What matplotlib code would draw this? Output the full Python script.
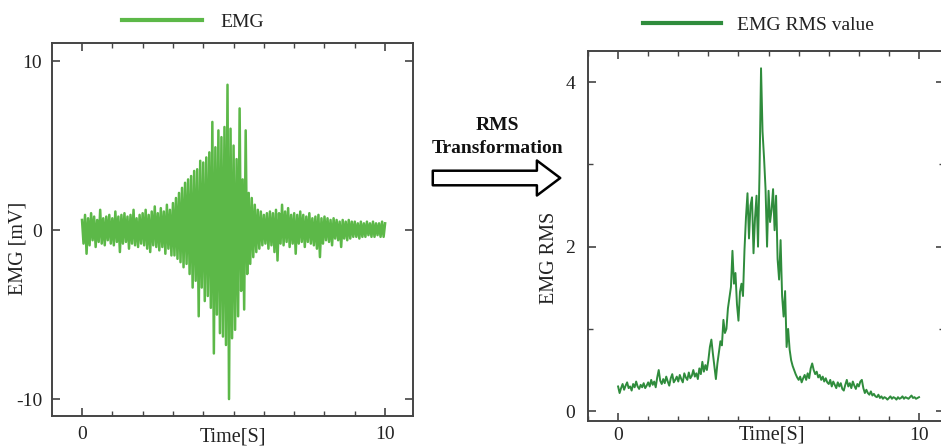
import numpy as np
import matplotlib
matplotlib.use("Agg")
import matplotlib.pyplot as plt
from matplotlib.lines import Line2D
from matplotlib.ticker import MultipleLocator

plt.rcParams['font.family'] = ['Liberation Serif', 'DejaVu Serif']
plt.rcParams['axes.unicode_minus'] = False

# ---------------- data (0.05 s steps) ----------------
emg_step = 0.05
emg_mv = [
    0.6, -0.8, 0.9, -1.4, 0.7, -0.9, 1.0, -0.6, 0.8, -1.0, 0.6, -0.7, 1.2, -0.8, 0.7, -0.9, 0.8, -0.6, 0.9, -0.8,
    0.7, -0.9, 1.1, -0.7, 0.8, -1.3, 0.9, -0.8, 1.0, -0.7, 0.8, -1.1, 0.9, -0.8, 1.2, -0.9, 0.7, -1.0, 0.9, -0.8,
    1.0, -0.9, 1.2, -1.1, 0.9, -1.3, 1.1, -0.9, 1.4, -1.0, 1.0, -1.2, 1.3, -1.0, 1.1, -1.4, 1.5, -1.1, 1.2, -1.5,
    1.6, -1.5, 1.9, -1.7, 2.2, -1.9, 2.5, -2.2, 2.8, -2.0, 3.0, -2.6, 3.2, -3.4, 3.5, -3.0, 3.6, -5.1, 4.1, -3.4,
    4.0, -4.2, 4.3, -3.9, 4.6, -4.6, 6.4, -7.3, 4.9, -5.0, 5.9, -6.1, 5.5, -6.3, 6.1, -6.8, 8.6, -10.0, 6.0, -6.4,
    5.0, -5.9, 4.2, -5.1, 7.2, -3.6, 3.0, -4.7, 5.9, -2.6, 2.2, -2.0, 1.9, -1.6, 1.5, -1.3, 1.2, -1.1, 1.1, -0.9,
    0.9, -0.8, 1.0, -1.1, 1.1, -0.9, 1.0, -1.3, 1.2, -1.8, 1.0, -0.8, 1.5, -0.9, 1.1, -0.7, 1.3, -1.0, 0.9, -0.8,
    1.0, -1.4, 0.9, -0.8, 1.1, -0.7, 0.9, -1.0, 0.8, -0.7, 1.0, -0.8, 0.7, -0.9, 0.8, -1.1, 0.9, -1.6, 0.7, -0.8,
    0.8, -0.6, 0.7, -0.7, 0.6, -0.9, 0.7, -0.5, 0.6, -0.6, 0.5, -1.0, 0.6, -0.5, 0.5, -0.6, 0.6, -0.5, 0.5, -0.4,
    0.5, -0.4, 0.4, -0.5, 0.5, -0.4, 0.4, -0.4, 0.5, -0.3, 0.4, -0.4, 0.5, -0.4, 0.4, -0.3, 0.4, -0.4, 0.5, -0.4,
    0.4,
]

rms_step = 0.05
emg_rms = [
    0.30, 0.22, 0.28, 0.33, 0.26, 0.31, 0.35, 0.28, 0.30, 0.25, 0.33, 0.29, 0.36, 0.30, 0.27, 0.32, 0.29, 0.34, 0.28, 0.31,
    0.35, 0.30, 0.38, 0.32, 0.36, 0.29, 0.41, 0.50, 0.37, 0.33, 0.39, 0.34, 0.42, 0.36, 0.31, 0.40, 0.45, 0.35, 0.38, 0.42,
    0.36, 0.44, 0.39, 0.35, 0.46, 0.41, 0.38, 0.47, 0.40, 0.43, 0.50, 0.42, 0.46, 0.39, 0.52, 0.45, 0.60, 0.48, 0.56, 0.50,
    0.62, 0.78, 0.87, 0.70, 0.55, 0.39, 0.58, 0.72, 0.85, 0.80, 1.11, 0.95, 1.00, 1.25, 1.38, 1.51, 1.95, 1.55, 1.68, 1.30,
    1.10, 1.45, 1.55, 1.40, 1.96, 2.36, 2.65, 2.10, 2.50, 2.60, 1.92, 2.35, 2.62, 2.00, 2.90, 4.17, 3.40, 3.08, 2.70, 2.00,
    2.68, 2.30, 2.45, 2.70, 2.20, 2.62, 1.85, 1.60, 2.08, 1.40, 1.15, 1.46, 0.78, 1.00, 0.75, 0.62, 0.55, 0.50, 0.45, 0.41,
    0.38, 0.42, 0.35, 0.40, 0.44, 0.38, 0.46, 0.40, 0.52, 0.58, 0.50, 0.45, 0.48, 0.41, 0.44, 0.38, 0.42, 0.36, 0.40, 0.35,
    0.33, 0.38, 0.30, 0.36, 0.32, 0.28, 0.35, 0.30, 0.34, 0.27, 0.25, 0.32, 0.38, 0.30, 0.34, 0.28, 0.36, 0.31, 0.27, 0.33,
    0.30, 0.36, 0.38, 0.28, 0.22, 0.26, 0.22, 0.20, 0.24, 0.19, 0.21, 0.18, 0.17, 0.20, 0.16, 0.18, 0.15, 0.17, 0.16, 0.14,
    0.16, 0.18, 0.15, 0.17, 0.16, 0.14, 0.17, 0.15, 0.16, 0.18, 0.15, 0.17, 0.16, 0.15, 0.17, 0.19, 0.16, 0.17, 0.15, 0.16,
    0.17,
]

x_ticks = [0, 10]
emg_yticks = [-10, 0, 10]
rms_yticks = [0, 2, 4]
legend_labels = ["EMG", "EMG RMS value"]
arrow_text = "RMS\nTransformation"

t_emg = np.arange(len(emg_mv)) * emg_step
t_rms = np.arange(len(emg_rms)) * rms_step

# ---------------- figure ----------------
W, H = 941, 447
fig = plt.figure(figsize=(W / 100, H / 100), dpi=100)

c_emg = '#5cb848'
c_rms = '#2f8c3c'
spine_c = '#444444'


def px_rect(l, t, r, b):
    return [l / W, 1 - b / H, (r - l) / W, (b - t) / H]


def style(ax, ylabel, yt, ypad, xpad, xlab_xy, ylab_xy):
    for s in ax.spines.values():
        s.set_color(spine_c)
        s.set_linewidth(1.4)
    ax.set_xticks(x_ticks)
    ax.xaxis.set_minor_locator(MultipleLocator(1))
    ax.set_yticks(yt)
    ax.tick_params(which='both', direction='in', top=True, right=True,
                   colors=spine_c, labelcolor='#222222', labelsize=14)
    ax.tick_params(which='major', length=6, width=1.2)
    ax.tick_params(which='minor', length=3.5, width=1.0)
    ax.tick_params(axis='x', which='major', pad=xpad)
    ax.tick_params(axis='y', which='major', pad=ypad)
    ax.set_xlabel("Time[S]", fontsize=14.5, color='#222222')
    ax.set_ylabel(ylabel, fontsize=14.5, color='#222222')
    ax.xaxis.set_label_coords(*xlab_xy)
    ax.yaxis.set_label_coords(*ylab_xy)


# left panel
ax1 = fig.add_axes(px_rect(52, 43, 413, 416))
ax1.plot(t_emg, emg_mv, color=c_emg, lw=1.8)
ax1.set_xlim(-0.99, 10.92)
ax1.set_ylim(-11.0, 11.07)
style(ax1, "EMG [mV]", emg_yticks, 7, 7, (0.5, -0.03), (-0.069, 0.45))

# right panel
ax2 = fig.add_axes(px_rect(588, 51, 944, 421))
ax2.plot(t_rms, emg_rms, color=c_rms, lw=1.4)
ax2.set_xlim(-1.0, 10.83)
ax2.set_ylim(-0.12, 4.38)
ax2.yaxis.set_minor_locator(MultipleLocator(1))
style(ax2, "EMG RMS", rms_yticks, 9, 4, (0.516, -0.012), (-0.082, 0.44))

# legends
h1 = Line2D([], [], color=c_emg, lw=3)
h2 = Line2D([], [], color=c_rms, lw=3)
fig.legend([h1], [legend_labels[0]], loc='center left',
           bbox_to_anchor=(122 / W, 1 - 22 / H), frameon=False,
           handlelength=4.1, handletextpad=0.95, borderpad=0, borderaxespad=0,
           fontsize=14, labelcolor='#222222')
fig.legend([h2], [legend_labels[1]], loc='center left',
           bbox_to_anchor=(643 / W, 1 - 25 / H), frameon=False,
           handlelength=4.0, handletextpad=0.85, borderpad=0, borderaxespad=0,
           fontsize=14, labelcolor='#222222')

# transformation arrow
fig.text(497 / W, 1 - 137 / H, arrow_text, ha='center', va='center',
         fontsize=14, fontweight='bold', color='#111111', linespacing=1.4)
fig.patches.append(matplotlib.patches.FancyArrowPatch(
    (430, H - 178), (563, H - 178), transform=None,
    arrowstyle='simple,head_width=1.8,head_length=1.2,tail_width=0.75',
    mutation_scale=14, fc='white', ec='black', lw=1.8))

fig.savefig('out.png', dpi=100)
